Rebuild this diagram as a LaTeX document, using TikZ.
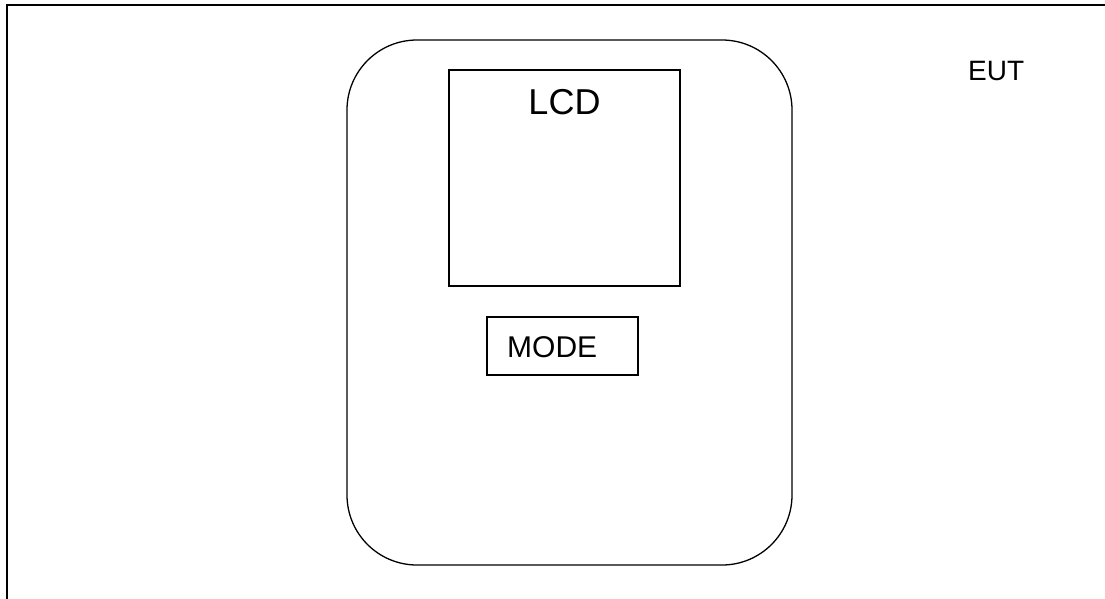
\documentclass[tikz,border=0pt]{standalone}
\usepackage{fontspec}
\setmainfont{Liberation Sans}
\usetikzlibrary{positioning}
\tikzstyle{frame} = [draw, line width=1.6pt]
\tikzstyle{casing} = [rectangle, draw, line width=1.3pt, rounded corners=70pt,
    minimum width=445pt, minimum height=525pt, inner sep=0pt]
\tikzstyle{panel} = [rectangle, draw, line width=1.3pt, inner sep=0pt]
\tikzstyle{caption} = [inner sep=0pt, anchor=base]
\begin{document}
\begin{tikzpicture}[x=1pt, y=-1pt]
  \useasboundingbox (0,0) rectangle (1105,598);
  \path [frame] (1110,5) -| (7,603);
  \node [casing] (body) at (569.5,302.5) {};
  \node [panel, minimum width=231pt, minimum height=216pt] (lcd) at (564.5,178) {};
  \node [caption, font=\fontsize{36}{40}\selectfont, below=45pt of lcd.north, anchor=base] (lcdtext) {LCD};
  \node [panel, minimum width=151pt, minimum height=58pt] (mode) at (562.5,346) {};
  \node [caption, font=\fontsize{30}{34}\selectfont, anchor=base west] (modetext) at (507,357) {MODE};
  \node [caption, font=\fontsize{28}{32}\selectfont, anchor=base west] (eut) at (968,80) {EUT};
\end{tikzpicture}
\end{document}
